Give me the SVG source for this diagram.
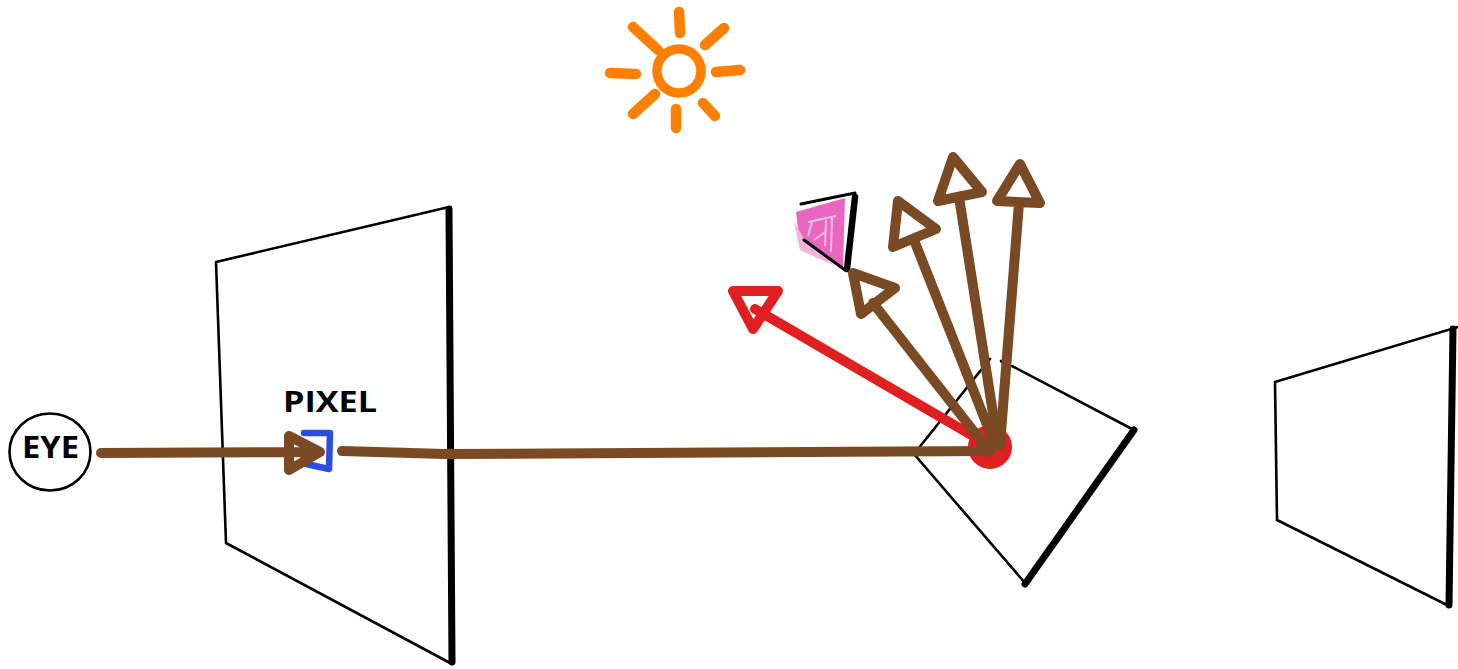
<svg xmlns="http://www.w3.org/2000/svg" width="1458" height="669" viewBox="0 0 1458 669">
<style>
.thin{fill:none;stroke:#000;stroke-width:2.6;stroke-linecap:round;stroke-linejoin:round}
.thick{fill:none;stroke:#000;stroke-width:7;stroke-linecap:round}
.ray{fill:none;stroke:#ff7f00;stroke-width:10.5;stroke-linecap:round}
.brown{fill:none;stroke:#7a4a24;stroke-width:10;stroke-linecap:round;stroke-linejoin:round}
.red{fill:none;stroke:#e01f20;stroke-width:10;stroke-linecap:round;stroke-linejoin:round}
.label{font-family:"Open Sans","Liberation Sans",sans-serif;font-weight:700;fill:#000}
</style>
<rect width="1458" height="669" fill="#fff"/>
<g id="sun">
<circle cx="679" cy="71" r="22" fill="none" stroke="#ff7f00" stroke-width="9.5"/>
<path class="ray" d="M679 12L680 33M705 45L724 28M716 72L740 70M703 103L715 116M676 109L676 128M633 114L655 94M610 73L636 74M633 27L658 50"/>
</g>
<g id="screen">
<path class="thin" d="M449 207L216 262L226 543L452 664"/>
<path class="thick" d="M449 209L452 662"/>
</g>
<g id="object-panel">
<path class="thin" d="M914 454L981 370M989 360L990 359M1001 361L1002 362M1012 366L1134 430M914 454L1025 583"/>
<path class="thick" d="M1134 430L1025 584" stroke-width="8"/>
</g>
<g id="far-panel">
<path class="thin" d="M1458 327L1275 382L1277 520L1449 606"/>
<path class="thick" d="M1453 329L1449 605"/>
</g>
<g id="occluder">
<path d="M796 212L845 198L843 268L800 245Z" fill="#e44cb4" fill-opacity=".85"/>
<path d="M794 222L800 250L835 266L805 240Z" fill="#f3b4e0"/>
<path d="M808 222L836 216M808 236L812 222M826 220L825 246M832 218L831 252M814 240L825 232" fill="none" stroke="#f7bce6" stroke-width="2"/>
<path d="M801 204L855 193" fill="none" stroke="#000" stroke-width="3" stroke-linecap="round"/>
<path d="M804 240L845 270" fill="none" stroke="#000" stroke-width="3" stroke-linecap="round"/>
<path d="M855 197L847 269" fill="none" stroke="#000" stroke-width="6.5" stroke-linecap="round"/>
</g>
<g id="pixel">
<path d="M304 433L330 433L329 469L306 464" fill="none" stroke="#2a4fe0" stroke-width="6.5" stroke-linecap="round" stroke-linejoin="round"/>
<text class="label" x="283" y="412" font-size="28" textLength="94" lengthAdjust="spacingAndGlyphs">PIXEL</text>
</g>
<g id="eye">
<ellipse cx="50" cy="452" rx="40.500" ry="38.500" fill="#fff" stroke="#000" stroke-width="2.600"/>
<text class="label" x="22" y="458" font-size="31" textLength="57" lengthAdjust="spacingAndGlyphs">EYE</text>
</g>
<g id="hit-point">
<circle cx="990" cy="447" r="22" fill="#e01f20"/>
</g>
<g id="connectors">
<path class="brown" d="M101 453L318 452M289 436L320 452L289 470ZM289 436L289 470"/>
<path class="brown" d="M342 451L445 454L990 451"/>
<path class="red" d="M985 443L755 309M733 291L778 291L753 329Z"/>
<path class="brown" d="M990 452L873 303M853 273L895 288L861 314Z"/>
<path class="brown" d="M995 445L914 240M898 201L936 229L893 247Z"/>
<path class="brown" d="M998 445L959 197M953 157L982 192L938 201Z"/>
<path class="brown" d="M1000 445L1019 203M1020 164L1040 203L997 201Z"/>
</g>
</svg>
